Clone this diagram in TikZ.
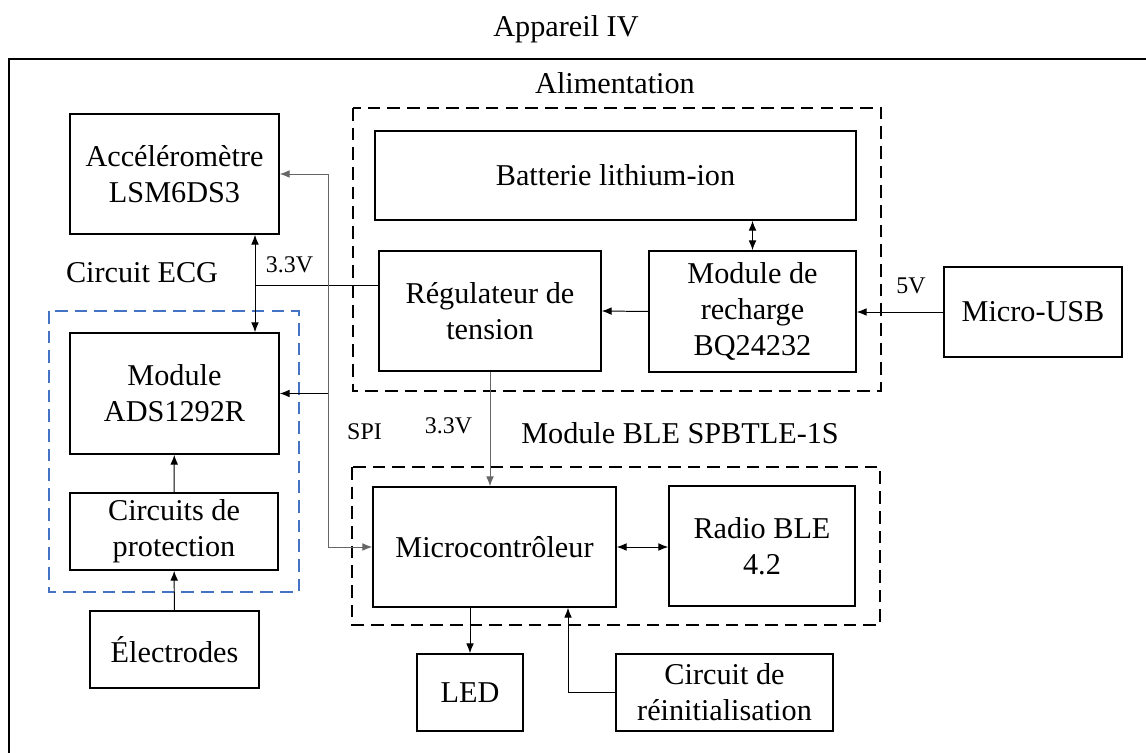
\documentclass[tikz,border=0pt]{standalone}
\usepackage{fontspec}
\setmainfont{Liberation Serif}
\usetikzlibrary{calc,arrows.meta}
\definecolor{ecgblue}{RGB}{68,114,196}
\tikzset{
  block/.style 2 args={draw, line width=1.1pt, align=center, inner sep=0pt,
    minimum width=#1*0.025cm, minimum height=#2*0.025cm,
    font=\fontsize{21.5}{25.6}\selectfont},
  group/.style={line width=1pt, dash pattern=on 9pt off 5pt},
  heading/.style={font=\fontsize{21.5}{25.6}\selectfont},
  tag/.style={font=\fontsize{17}{20}\selectfont},
  wire/.style={line width=0.7pt, >={Latex[length=7pt,width=5.5pt]}},
}
\begin{document}
\begin{tikzpicture}[x=0.025cm, y=-0.025cm]
    \clip (0,0) rectangle (1146,753);
    \draw[line width=1.1pt] (9,59) rectangle (1180,800);
    \node[heading] (title) at (566,29) {Appareil IV};

    % groupes
    \draw[group, draw=ecgblue] (49,311) rectangle (299,592);
    \draw[group] (353,108) rectangle (881,391);
    \draw[group] (352,467) rectangle (880,625);
    \node[heading] (ecg) at (142,273) {Circuit ECG};
    \node[heading] (alim) at (615,83) {Alimentation};
    \node[heading] (ble) at (680,433) {Module BLE SPBTLE-1S};

    % blocs
    \node[block={209}{120}] (acc) at (174.5,174) {Accéléromètre\\LSM6DS3};
    \node[block={209}{121}] (ads) at (174.5,393.5) {Module\\ADS1292R};
    \node[block={208}{77}] (prot) at (174,531.5) {Circuits de\\protection};
    \node[block={169}{77}] (elec) at (174.5,649.5) {Électrodes};
    \node[block={481}{89}] (batt) at (615.5,175.5) {Batterie lithium-ion};
    \node[block={222}{120}] (reg) at (490,311) {Régulateur de\\tension};
    \node[block={207}{121}] (rech) at (752.5,311.5) {Module de\\recharge\\BQ24232};
    \node[block={178}{90}] (usb) at (1033,312) {Micro-USB};
    \node[block={243}{120}] (mcu) at (494.5,547) {Microcontrôleur};
    \node[block={186}{120}] (radio) at (762,546) {Radio BLE\\4.2};
    \node[block={106}{77}] (led) at (470,692.5) {LED};
    \node[block={217}{77}] (reset) at (724.5,692.5) {Circuit de\\réinitialisation};

    % tensions et bus
    \node[tag] (v33a) at (289.5,265) {3.3V};
    \node[tag] (v33b) at (448.5,426) {3.3V};
    \node[tag] (spi) at (364.5,432) {SPI};
    \node[tag] (v5) at (911,286) {5V};
    \coordinate (j33) at (255,285);
    \coordinate (jspi) at (328,393.5);
    \coordinate (rin) at ($(mcu.south)+(73.5,0)$);

    % liaisons
    \draw[wire, <->] (acc.south -| j33) -- (ads.north -| j33);
    \draw[wire] (j33) -- (j33 -| reg.west);
    \draw[wire, black!60, ->] (jspi) |- (acc.east);
    \draw[wire, black!60, ->] (jspi) |- (mcu.west);
    \draw[wire, ->] (jspi) -- (ads.east);
    \draw[wire, ->] (elec) -- (prot);
    \draw[wire, ->] (prot) -- (ads);
    \draw[wire, <->] (rech.north) -- (rech.north |- batt.south);
    \draw[wire, ->] (rech.west) -- (reg.east);
    \draw[wire, ->] (usb.west) -- (usb.west -| rech.east);
    \draw[wire, black!60, ->] (reg.south) -- (reg.south |- mcu.north);
    \draw[wire, <->] (mcu.east) -- (mcu.east -| radio.west);
    \draw[wire, ->] (led.north |- mcu.south) -- (led.north);
    \draw[wire, ->] (reset.west) -| (rin);
\end{tikzpicture}
\end{document}
